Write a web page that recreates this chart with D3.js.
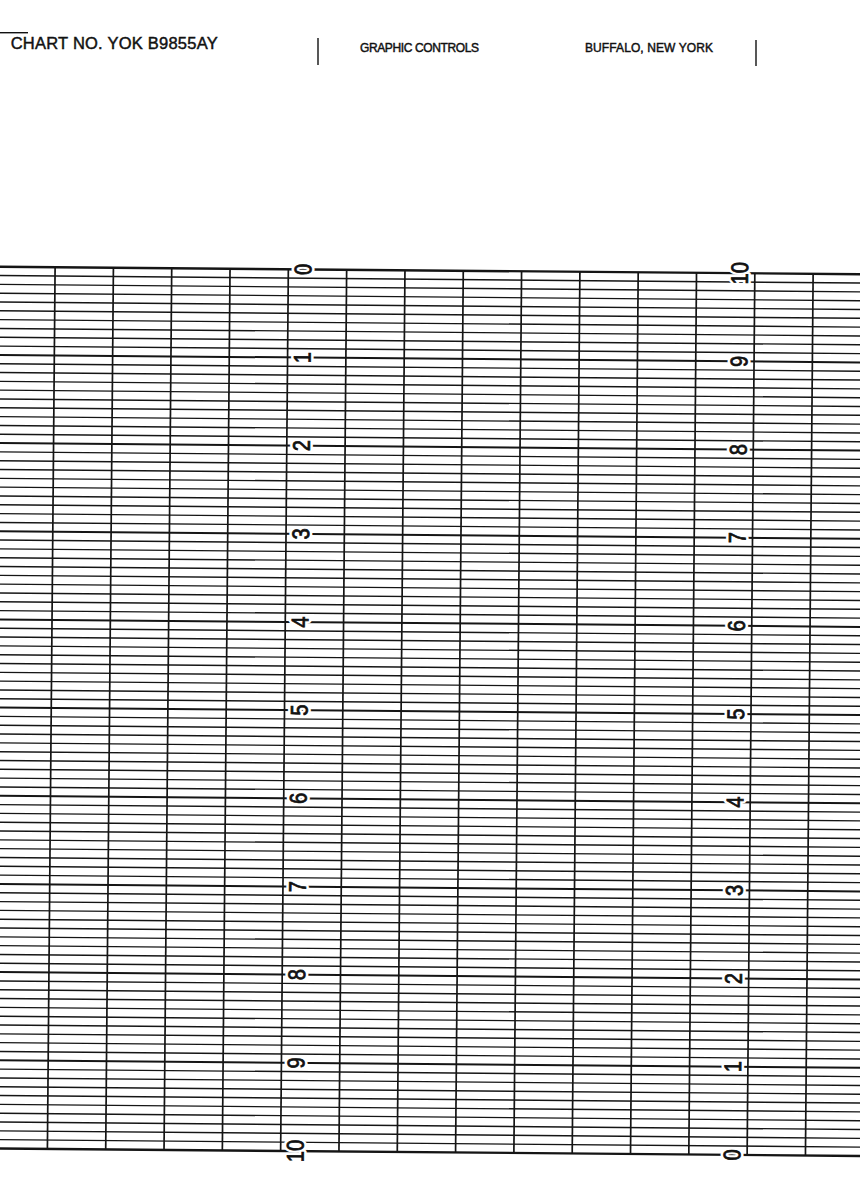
<!DOCTYPE html>
<html lang="en">
<head>
  <meta charset="UTF-8" />
  <title>Chart No. YOK B9855AY</title>
  <style>
    html, body { margin: 0; padding: 0; background: #fff; }
    svg { display: block; }
    .hdr { font-family: "Liberation Sans", Arial, sans-serif; fill: #111; stroke: #111; stroke-width: 0.45px; }
    .lbl { font-family: "Liberation Sans Narrow", "Liberation Sans", sans-serif; }
    .lbl.halo { fill: #fff; stroke: #fff; stroke-width: 5px; stroke-linejoin: round; }
    .lbl.ink { fill: #111; stroke: #111; stroke-width: 0.7px; }
  </style>
</head>
<body>
  <div id="chart"></div>

  <script src="https://d3js.org/d3.v7.min.js"></script>
  <script>
    const width = 860;
    const height = 1200;

    // scale printed along the left ruling (top to bottom) and the right ruling
    const leftLabels = [0, 1, 2, 3, 4, 5, 6, 7, 8, 9, 10];
    const rightLabels = [10, 9, 8, 7, 6, 5, 4, 3, 2, 1, 0];
    // vertical rulings, counted from the left scale line (0) to the right one (8)
    const columns = [-4, -3, -2, -1, 0, 1, 2, 3, 4, 5, 6, 7, 8, 9];
    const minorPerMajor = 10;
    const headerTexts = ['CHART NO. YOK B9855AY', 'GRAPHIC CONTROLS', 'BUFFALO, NEW YORK'];

    const svg = d3.select('#chart')
      .append('svg')
      .attr('width', width)
      .attr('height', height);

    // ---- header strip ----
    const headerLayout = [
      { x: 10.7, y: 49.3, size: 16.5, len: 207 },
      { x: 360, y: 51.7, size: 12, len: 119 },
      { x: 585, y: 52, size: 12, len: 128 }
    ];
    svg.selectAll('text.hdr')
      .data(headerTexts)
      .enter().append('text')
        .attr('class', 'hdr')
        .attr('x', (d, i) => headerLayout[i].x)
        .attr('y', (d, i) => headerLayout[i].y)
        .attr('font-size', (d, i) => headerLayout[i].size)
        .attr('textLength', (d, i) => headerLayout[i].len)
        .attr('lengthAdjust', 'spacing')
        .text(d => d);

    const hdrLines = [
      [0, 32.7, 28, 32.7],
      [318, 38, 318, 65],
      [756, 40, 756, 66]
    ];
    svg.selectAll('line.hdr-rule')
      .data(hdrLines)
      .enter().append('line')
        .attr('class', 'hdr-rule')
        .attr('x1', d => d[0]).attr('y1', d => d[1])
        .attr('x2', d => d[2]).attr('y2', d => d[3])
        .attr('stroke', '#111')
        .attr('stroke-width', 1.4);

    // ---- grid (scan is slightly skewed) ----
    const grid = svg.append('g')
      .attr('transform', 'rotate(0.5 430 710)');

    const y = d3.scaleLinear()
      .domain([leftLabels[0], leftLabels[leftLabels.length - 1]])
      .range([270.5, 1152.2]);

    const x = d3.scaleLinear()
      .domain([0, 8])
      .range([284.5, 751]);

    const rows = y.ticks((leftLabels.length - 1) * minorPerMajor);
    const isMajor = v => Math.abs(v - Math.round(v)) < 1e-6;
    const isEdge = v => v === y.domain()[0] || v === y.domain()[1];

    grid.append('g')
      .selectAll('line')
      .data(rows)
      .enter().append('line')
        .attr('x1', -30)
        .attr('x2', width + 30)
        .attr('y1', d => y(d))
        .attr('y2', d => y(d))
        .attr('stroke', '#151515')
        .attr('stroke-width', d => isEdge(d) ? 2.4 : isMajor(d) ? 2.0 : 1.4);

    grid.append('g')
      .selectAll('line')
      .data(columns)
      .enter().append('line')
        .attr('x1', d => x(d))
        .attr('x2', d => x(d))
        .attr('y1', y.range()[0])
        .attr('y2', y.range()[1])
        .attr('stroke', '#151515')
        .attr('stroke-width', 1.7);

    // ---- scale numbers, printed sideways over the lines ----
    function drawLabels(labels, lx) {
      const g = grid.append('g');
      ['halo', 'ink'].forEach(kind => {
        g.selectAll('text.' + kind)
          .data(labels)
          .enter().append('text')
            .attr('class', 'lbl ' + kind)
            .attr('font-size', 20)
            .attr('text-anchor', 'middle')
            .attr('dy', '0.36em')
            .attr('transform', (d, i) =>
              `translate(${lx},${y(leftLabels[i])}) rotate(-90) scale(1,1.2)`)
            .text(d => d);
      });
    }
    drawLabels(leftLabels, x(0) + 14.3);
    drawLabels(rightLabels, x(8) - 15.5);
  </script>
</body>
</html>
